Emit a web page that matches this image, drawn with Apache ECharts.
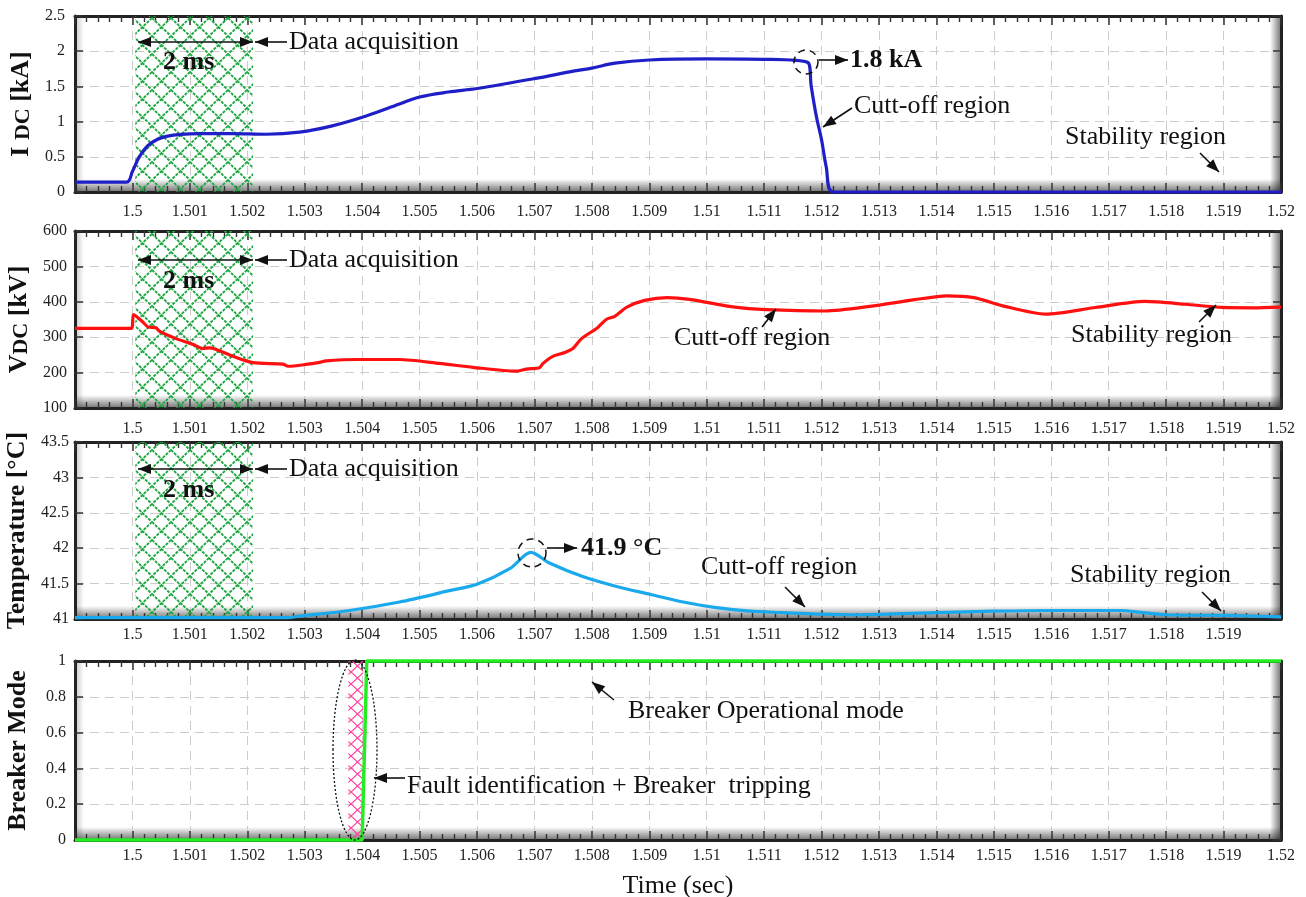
<!DOCTYPE html>
<html><head><meta charset="utf-8">
<script src="https://cdn.jsdelivr.net/npm/echarts@6/dist/echarts.min.js"></script>
<style>html,body{margin:0;padding:0;background:#fff}#c{width:1306px;height:897px}</style>
</head><body><div id="c"></div>
<script>
// ---------------- data ----------------
const X_MIN = 1.499, X_MAX = 1.52, X_STEP = 0.001;

const T_IDC = [1.499, 1.4999, 1.5, 1.50012, 1.5003, 1.50059, 1.50117, 1.50174, 1.50233, 1.50291, 1.50348, 1.50407, 1.50465, 1.505, 1.5055, 1.506, 1.507, 1.5077, 1.508, 1.5084, 1.509, 1.51, 1.511, 1.51176, 1.51182, 1.51191, 1.512, 1.51208, 1.5122, 1.52];
const IDC   = [0.14, 0.14, 0.29, 0.50, 0.68, 0.79, 0.83, 0.83, 0.82, 0.85, 0.94, 1.08, 1.25, 1.35, 1.42, 1.47, 1.61, 1.72, 1.76, 1.83, 1.875, 1.89, 1.885, 1.84, 1.50, 1.07, 0.74, 0.36, 0, 0];

const T_VDC = [1.499, 1.49998, 1.50002, 1.50018, 1.50027, 1.50041, 1.50047, 1.50076, 1.50105, 1.50122, 1.50134, 1.50175, 1.5021, 1.50262, 1.50271, 1.50302, 1.50326, 1.50337, 1.5039, 1.50465, 1.50535, 1.50593, 1.50668, 1.50686, 1.50709, 1.50715, 1.50732, 1.50753, 1.50767, 1.50782, 1.5081, 1.50825, 1.5084, 1.50861, 1.50892, 1.50931, 1.5097, 1.51049, 1.51104, 1.51206, 1.51284, 1.51362, 1.51418, 1.51465, 1.51519, 1.5159, 1.51677, 1.51763, 1.51834, 1.51897, 1.51951, 1.52];
const VDC   = [325, 325, 364, 343, 329, 327, 317, 296, 280, 268, 270, 246, 228, 224, 218, 223, 229, 233, 237, 237, 226, 215, 204, 210, 214, 226, 246, 257, 268, 296, 327, 350, 359, 385, 404, 412, 407, 385, 378, 374, 387, 406, 417, 412, 387, 365, 384, 401, 393, 384, 383, 385];

const T_TEMP = [1.499, 1.5027, 1.50291, 1.50378, 1.50465, 1.50552, 1.506, 1.50657, 1.50694, 1.50726, 1.50784, 1.50843, 1.50901, 1.50959, 1.51017, 1.51075, 1.51133, 1.51191, 1.51267, 1.514, 1.51499, 1.51598, 1.5172, 1.5176, 1.51801, 1.51905, 1.52];
const TEMP   = [41.02, 41.02, 41.04, 41.12, 41.24, 41.40, 41.49, 41.71, 41.94, 41.79, 41.60, 41.46, 41.35, 41.24, 41.16, 41.11, 41.09, 41.07, 41.06, 41.09, 41.11, 41.12, 41.12, 41.09, 41.06, 41.05, 41.03];

const T_BRK = [1.499, 1.504, 1.50408, 1.52];
const BRK   = [0, 0, 1, 1];

const ACQ_RANGE = [1.50005, 1.5021];   // data acquisition window (2 ms)
const FAULT_RANGE = [1.50376, 1.50402]; // fault identification window

const Y_MIN = [0, 100, 41, 0];
const Y_MAX = [2.5, 600, 43.5, 1];
const Y_STEP = [0.5, 100, 0.5, 0.2];
const Y_NAMES = ['{b|I }{s|DC}{b| [kA]}', '{b|V}{s|DC}{b| [kV]}', '{b|Temperature [°C]}', '{b|Breaker Mode}'];
const X_NAME = 'Time (sec)';

// ---------------- layout/style ----------------
const FONT = '"Liberation Serif","Times New Roman",serif';
const LEFT = 75, WIDTH = 1206;
const GRIDS = [{top: 16, height: 176}, {top: 231, height: 177}, {top: 442, height: 177}, {top: 661, height: 179}];
const NAME_GAPS = [34, 37, 41, 44];
const XLABEL_MARGIN = [12, 13, 8, 8];
const YLABEL_MARGIN = [10, 8, 6, 9];
const COLORS = ['#1f1fc8', '#ff1010', '#1aa9ec', '#22ee22'];

function zip(a, b) { return a.map((t, i) => [t, b[i]]); }

function makeHatch(cw, ch, color, lw, dash) {
  const c = document.createElement('canvas');
  c.width = cw; c.height = ch;
  const g = c.getContext('2d');
  g.strokeStyle = color; g.lineWidth = lw;
  if (dash) g.setLineDash(dash);
  g.beginPath();
  g.moveTo(0, 0); g.lineTo(cw, ch);
  g.moveTo(cw, 0); g.lineTo(0, ch);
  g.stroke();
  return c;
}
const greenHatch = makeHatch(19, 18, '#1fa843', 1.9, [3, 1.2]);
const pinkHatch = makeHatch(13, 12, '#ff3f9f', 1.2, null);

function fmtX(hideLast) {
  return function (v) {
    const r = Math.round(v * 1000) / 1000;
    if (r <= X_MIN + 1e-9) return '';
    if (hideLast && r >= X_MAX - 1e-9) return '';
    return String(r);
  };
}

const xAxes = [], yAxes = [], grids = [], series = [];
GRIDS.forEach((g, i) => {
  grids.push({left: LEFT, width: WIDTH, top: g.top, height: g.height, containLabel: false, outerBoundsMode: 'none'});
  const common = {
    type: 'value', gridIndex: i, min: X_MIN, max: X_MAX, interval: X_STEP,
    axisLine: {show: true, onZero: false, lineStyle: {color: '#222', width: 3}},
    axisTick: {show: true, inside: true, length: 9, lineStyle: {color: '#333', width: 1.5}},
    minorTick: {show: true, splitNumber: 5, length: 6, lineStyle: {color: '#333', width: 1.4}},
  };
  xAxes.push(Object.assign({}, common, {
    position: 'bottom',
    splitLine: {show: true, lineStyle: {type: [9, 6], color: '#cccccc', width: 1}},
    axisLabel: {show: true, formatter: fmtX(i === 2), fontFamily: FONT, fontSize: 16, color: '#222', margin: XLABEL_MARGIN[i], showMinLabel: true, showMaxLabel: true},
    name: i === 3 ? X_NAME : '', nameLocation: 'middle', nameGap: 33,
    nameTextStyle: {fontFamily: FONT, fontSize: 26, color: '#111'}
  }));
  xAxes.push(Object.assign({}, common, {
    position: 'top', splitLine: {show: false}, axisLabel: {show: false}
  }));
  const ycommon = {
    type: 'value', gridIndex: i, min: Y_MIN[i], max: Y_MAX[i], interval: Y_STEP[i],
    axisLine: {show: true, onZero: false, lineStyle: {color: '#222', width: 3}},
    axisTick: {show: true, inside: true, length: 8, lineStyle: {color: '#333', width: 1.5}},
  };
  yAxes.push(Object.assign({}, ycommon, {
    position: 'left',
    splitLine: {show: true, lineStyle: {type: [9, 6], color: '#cccccc', width: 1}},
    axisLabel: {fontFamily: FONT, fontSize: 16, color: '#222', margin: YLABEL_MARGIN[i]},
    name: Y_NAMES[i], nameLocation: 'middle', nameRotate: 90, nameGap: NAME_GAPS[i],
    nameTextStyle: {
      rich: {
        b: {fontFamily: FONT, fontSize: 26, fontWeight: 'bold', color: '#111', lineHeight: 26, verticalAlign: 'top'},
        s: {fontFamily: FONT, fontSize: 22, fontWeight: 'bold', color: '#111', lineHeight: 22, padding: [9, 0, 0, 0], verticalAlign: 'bottom'}
      }
    }
  }));
  yAxes.push(Object.assign({}, ycommon, {
    position: 'right', splitLine: {show: false}, axisLabel: {show: false}
  }));
});

const acqArea = {
  silent: true,
  itemStyle: {color: {image: greenHatch, repeat: 'repeat'}},
  data: [[{xAxis: ACQ_RANGE[0]}, {xAxis: ACQ_RANGE[1]}]]
};

const SMOOTH = [0.35, 0.25, 0.3, 0];
const lineSeries = [[T_IDC, IDC], [T_VDC, VDC], [T_TEMP, TEMP], [T_BRK, BRK]];
lineSeries.forEach((d, i) => {
  const s = {
    type: 'line', xAxisIndex: 2 * i, yAxisIndex: 2 * i,
    data: zip(d[0], d[1]), showSymbol: false, symbol: 'none',
    smooth: SMOOTH[i] || false,
    clip: false, z: 5,
    lineStyle: {color: COLORS[i], width: i === 3 ? 3.5 : 3.2},
    animation: false
  };
  if (i < 3) s.markArea = acqArea;
  if (i === 3) s.markArea = {
    silent: true,
    itemStyle: {color: {image: pinkHatch, repeat: 'repeat'}},
    data: [[{xAxis: FAULT_RANGE[0]}, {xAxis: FAULT_RANGE[1]}]]
  };
  series.push(s);
});

// ---------------- decorations & annotations ----------------
const graphics = [];
const LG = echarts.graphic.LinearGradient;
GRIDS.forEach(g => {
  const bottom = g.top + g.height, right = LEFT + WIDTH;
  graphics.push({type: 'rect', z: -1, silent: true, shape: {x: LEFT, y: bottom - 13, width: WIDTH, height: 13},
    style: {fill: new LG(0, 0, 0, 1, [{offset: 0, color: 'rgba(0,0,0,0)'}, {offset: 1, color: 'rgba(0,0,0,0.55)'}])}});
  graphics.push({type: 'rect', z: -1, silent: true, shape: {x: right - 11, y: g.top, width: 11, height: g.height},
    style: {fill: new LG(0, 0, 1, 0, [{offset: 0, color: 'rgba(0,0,0,0)'}, {offset: 1, color: 'rgba(0,0,0,0.55)'}])}});
  graphics.push({type: 'rect', z: -1, silent: true, shape: {x: LEFT, y: g.top, width: 9, height: g.height},
    style: {fill: new LG(0, 0, 1, 0, [{offset: 0, color: 'rgba(0,0,0,0.22)'}, {offset: 1, color: 'rgba(0,0,0,0)'}])}});
});

function head(x1, y1, x2, y2, len, hw) {
  const dx = x2 - x1, dy = y2 - y1, L = Math.hypot(dx, dy);
  const ux = dx / L, uy = dy / L, bx = x2 - ux * len, by = y2 - uy * len;
  return {type: 'polygon', z: 100, silent: true,
    shape: {points: [[x2, y2], [bx - uy * hw, by + ux * hw], [bx + uy * hw, by - ux * hw]]},
    style: {fill: '#111'}};
}
function arrow(x1, y1, x2, y2) {
  graphics.push({type: 'line', z: 100, silent: true, shape: {x1, y1, x2, y2}, style: {stroke: '#111', lineWidth: 1.6}});
  graphics.push(head(x1, y1, x2, y2, 13, 5));
}
function dbl(x1, x2, y) {
  graphics.push({type: 'line', z: 100, silent: true, shape: {x1, y1: y, x2, y2: y}, style: {stroke: '#111', lineWidth: 1.6}});
  graphics.push(head(x2, y, x1, y, 13, 5));
  graphics.push(head(x1, y, x2, y, 13, 5));
}
function txt(s, x, y, bold, align) {
  graphics.push({type: 'text', z: 100, silent: true, x: x, y: y,
    style: {text: s, font: (bold ? 'bold ' : '') + '26px ' + FONT, fill: '#111',
      textAlign: align || 'left', textVerticalAlign: 'middle', align: align || 'left', verticalAlign: 'middle'}});
}
function circ(cx, cy, r) {
  graphics.push({type: 'circle', z: 100, silent: true, shape: {cx, cy, r},
    style: {fill: 'none', stroke: '#111', lineWidth: 1.5, lineDash: [7, 5]}});
}

// Data acquisition labels on panels 1-3
[[42, 62], [260, 281], [469, 490]].forEach(p => {
  dbl(138, 253, p[0]);
  txt('2 ms', 163, p[1], true);
  arrow(287, p[0], 255, p[0]);
  txt('Data acquisition', 289, p[0], false);
});
// panel 1
circ(806, 62, 12);
arrow(819, 60, 848, 60);
txt('1.8 kA', 850, 60, true);
arrow(852, 108, 823, 127);
txt('Cutt-off region', 854, 106, false);
txt('Stability region', 1065, 137, false);
arrow(1200, 153, 1219, 172);
// panel 2
arrow(762, 327, 776, 309);
txt('Cutt-off region', 674, 338, false);
arrow(1199, 322, 1216, 305);
txt('Stability region', 1071, 335, false);
// panel 3
circ(532, 553, 14);
arrow(547, 548, 577, 548);
txt('41.9 °C', 581, 548, true);
txt('Cutt-off region', 701, 567, false);
arrow(785, 587, 805, 607);
txt('Stability region', 1070, 575, false);
arrow(1202, 592, 1221, 611);
// panel 4
graphics.push({type: 'ellipse', z: 100, silent: true, shape: {cx: 355, cy: 750, rx: 22, ry: 90},
  style: {fill: 'none', stroke: '#111', lineWidth: 1.3, lineDash: [2, 2]}});
arrow(405, 778, 374, 778);
txt('Fault identification + Breaker  tripping', 407, 786, false);
arrow(614, 700, 592, 682);
txt('Breaker Operational mode', 628, 711, false);

const chart = echarts.init(document.getElementById('c'), null, {renderer: 'canvas'});
chart.setOption({
  animation: false,
  backgroundColor: '#fff',
  grid: grids,
  xAxis: xAxes,
  yAxis: yAxes,
  series: series,
  graphic: graphics
});
</script></body></html>
